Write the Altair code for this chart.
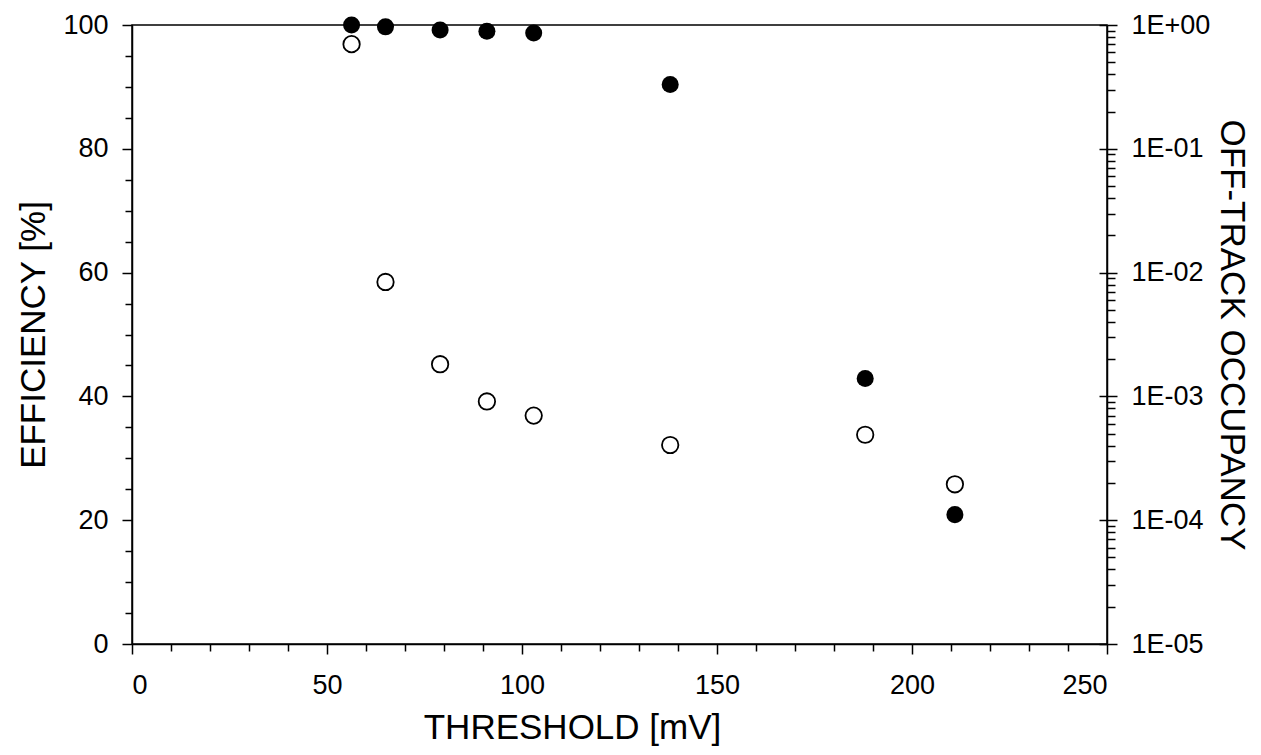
import altair as alt
import pandas as pd

# Data
threshold = [56.3, 65, 79, 91, 103, 138, 188, 211]          # mV
efficiency = [100.0, 99.7, 99.2, 99.0, 98.7, 90.4, 42.9, 20.9]  # %
occupancy = [0.70, 8.4e-3, 1.82e-3, 9.1e-4, 7.0e-4, 4.05e-4, 4.9e-4, 1.95e-4]

x_major = [0, 50, 100, 150, 200, 250]
x_minor = [v for v in range(0, 251, 10) if v % 50]
y_major = [0, 20, 40, 60, 80, 100]
y_minor = [v for v in range(0, 101, 5) if v % 20]
log_major = [1e-5, 1e-4, 1e-3, 1e-2, 1e-1, 1.0]
log_minor = [m * 10.0 ** e for e in range(-5, 0) for m in range(2, 10)]

df = pd.DataFrame({"threshold": threshold, "efficiency": efficiency, "occupancy": occupancy})

FONT = "Liberation Sans"
LFS = 27
TFS = 35
common = dict(
    labelFont=FONT, titleFont=FONT, labelFontSize=LFS, titleFontSize=TFS,
    labelColor="black", titleColor="black", tickColor="black", domainColor="black",
    domainWidth=1.5, tickWidth=1.5, grid=False, titleFontWeight="normal",
)

xscale = alt.Scale(domain=[0, 250], nice=False, zero=False)
effscale = alt.Scale(domain=[0, 100], nice=False, zero=False)
logscale = alt.Scale(type="log", domain=[1e-5, 1], nice=False)

base = alt.Chart(df)

# open circles: off-track occupancy (right log axis, major ticks)
occ = base.mark_point(shape="circle", filled=False, color="black", strokeWidth=1.8, size=270, opacity=1).encode(
    x=alt.X("threshold:Q", scale=xscale, axis=None),
    y=alt.Y("occupancy:Q", scale=logscale, axis=alt.Axis(
        orient="right", values=log_major, tickSize=10, labelPadding=14,
        labelExpr="'1E' + (datum.value >= 1 ? '+00' : '-' + format(round(-log(datum.value)/LN10), '02d'))",
        title="OFF-TRACK OCCUPANCY", titlePadding=4, **common)),
)

# inner part of the crossing major ticks on the log axis
occ_inner = base.mark_point(opacity=0).encode(
    x=alt.X("threshold:Q", scale=xscale, axis=None),
    y=alt.Y("occupancy:Q", scale=logscale, axis=alt.Axis(
        orient="right", values=log_major, tickSize=8, offset=-8, labels=False, domain=False, title=None, **common)),
)

# log minor ticks
occ_minor = base.mark_point(opacity=0).encode(
    x=alt.X("threshold:Q", scale=xscale, axis=None),
    y=alt.Y("occupancy:Q", scale=logscale, axis=alt.Axis(
        orient="right", values=log_minor, tickSize=8, labels=False, domain=False, title=None, **common)),
)

# efficiency minor ticks and x minor ticks
eff_minor = base.mark_point(opacity=0).encode(
    x=alt.X("threshold:Q", scale=xscale, axis=alt.Axis(
        orient="bottom", values=x_minor, tickSize=7, labels=False, domain=False, title=None, **common)),
    y=alt.Y("efficiency:Q", scale=effscale, axis=alt.Axis(
        orient="left", values=y_minor, tickSize=7, labels=False, domain=False, title=None, **common)),
)

# filled circles: efficiency (left axis, major ticks)
eff = base.mark_circle(color="black", size=290, opacity=1).encode(
    x=alt.X("threshold:Q", scale=xscale, axis=alt.Axis(
        orient="bottom", values=x_major, tickSize=10, labelPadding=18, format="d",
        title="THRESHOLD [mV]", titlePadding=12, titleX=440, **common)),
    y=alt.Y("efficiency:Q", scale=effscale, axis=alt.Axis(
        orient="left", values=y_major, tickSize=10, labelPadding=14, format="d",
        title="EFFICIENCY [%]", titlePadding=11, **common)),
)

chart = alt.layer(occ, occ_inner, occ_minor, eff_minor, eff).resolve_scale(
    y="independent"
).resolve_axis(
    x="independent", y="independent"
).properties(
    width=975, height=619,
    autosize=alt.AutoSizeParams(type="none"),
    padding={"left": 124, "top": 17, "right": 146, "bottom": 112},
).configure_view(stroke="black", strokeWidth=1.5)

chart.save("out.html", embed_options={"renderer": "svg", "actions": False})
